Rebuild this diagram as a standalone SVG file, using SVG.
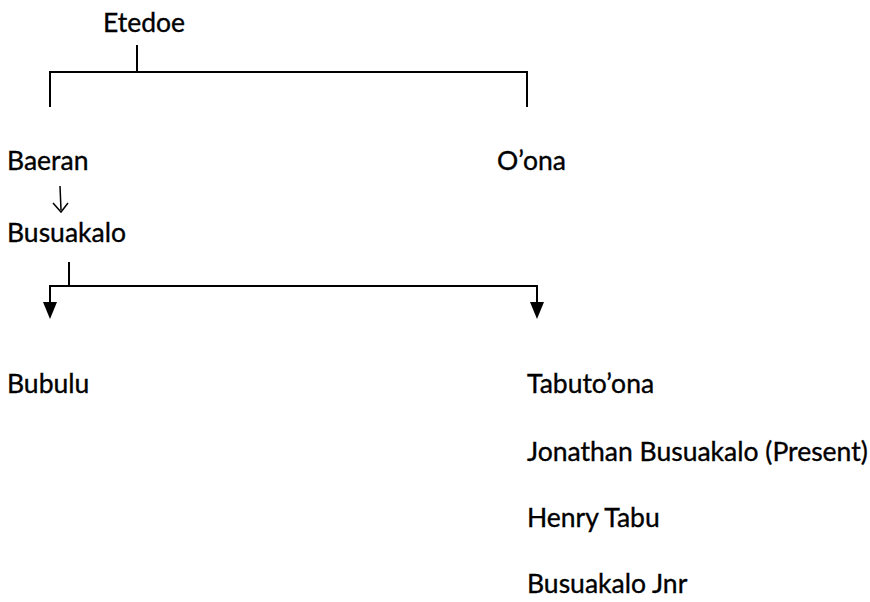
<svg xmlns="http://www.w3.org/2000/svg" width="870" height="602" viewBox="0 0 870 602">
<defs>
<style>
text{font-family:Lato,"Open Sans","Liberation Sans",sans-serif;font-size:26.5px;fill:#000;stroke:#000;stroke-width:0.35}
.ln{stroke:#000;stroke-width:2;fill:none}
.thin{stroke:#000;stroke-width:1.5;fill:none}
</style>
</defs>
<rect width="870" height="602" fill="#fff"/>
<g id="connectors">
<path class="ln" d="M137,45 V72"/>
<path class="ln" d="M50,107 V72 H527 V107"/>
<path class="thin" d="M60,186 L61,210"/>
<path class="thin" d="M53,203 L61,212 L68,203"/>
<path class="ln" d="M69,262 V286"/>
<path class="ln" d="M50,302 V286 H537 V302"/>
<path d="M43,302 L57,302 L50,319 Z" fill="#000"/>
<path d="M530,302 L544,302 L537,319 Z" fill="#000"/>
</g>
<g id="n-etedoe"><text x="103" y="32">Etedoe</text></g>
<g id="n-baeran"><text x="7" y="170">Baeran</text></g>
<g id="n-oona"><text x="497" y="170">O’ona</text></g>
<g id="n-busuakalo"><text x="7" y="242">Busuakalo</text></g>
<g id="n-bubulu"><text x="7" y="393">Bubulu</text></g>
<g id="n-tabutoona"><text x="527" y="393">Tabuto’ona</text></g>
<g id="n-jonathan"><text x="527" y="461">Jonathan Busuakalo (Present)</text></g>
<g id="n-henry"><text x="527" y="527">Henry Tabu</text></g>
<g id="n-jnr"><text x="527" y="593">Busuakalo Jnr</text></g>
</svg>
